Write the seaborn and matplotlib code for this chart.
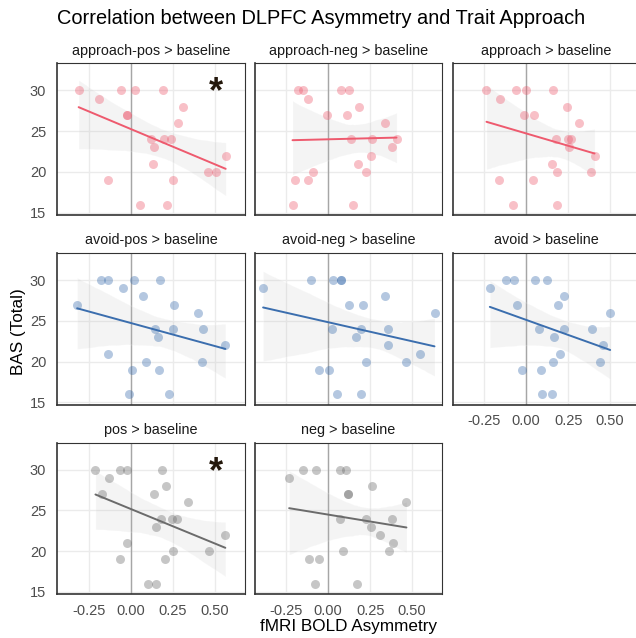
import numpy as np
import pandas as pd
import matplotlib
matplotlib.use("Agg")
import matplotlib.pyplot as plt
import seaborn as sns

# ---- data ----
panel_titles = ["approach-pos > baseline", "approach-neg > baseline", "approach > baseline",
                "avoid-pos > baseline", "avoid-neg > baseline", "avoid > baseline",
                "pos > baseline", "neg > baseline"]
panel_groups = ["approach", "approach", "approach", "avoid", "avoid", "avoid", "valence", "valence"]
significant = [True, False, False, False, False, False, True, False]

approach_pos_x = [-0.31, -0.19, -0.058, 0.028, 0.19, 0.31, -0.022, -0.022, 0.28, 0.123, 0.20, 0.24, 0.139, 0.565, 0.135, 0.458, 0.506, -0.133, 0.252, 0.054, 0.216]
approach_pos_y = [30, 29, 30, 30, 30, 28, 27, 27, 26, 24, 24, 24, 23, 22, 21, 20, 20, 19, 19, 16, 16]
approach_neg_x = [-0.18, -0.149, -0.121, 0.075, 0.125, 0.183, -0.004, 0.111, 0.341, 0.139, 0.264, 0.407, 0.381, 0.256, 0.175, -0.089, 0.228, -0.20, -0.117, -0.212, 0.147]
approach_neg_y = [30, 30, 29, 30, 30, 28, 27, 27, 26, 24, 24, 24, 23, 22, 21, 20, 20, 19, 19, 16, 16]
approach_x = [-0.236, -0.062, 0.0, 0.157, -0.157, 0.242, -0.012, 0.046, 0.313, 0.175, 0.248, 0.266, 0.258, 0.407, 0.155, 0.183, 0.387, -0.163, 0.042, -0.079, 0.181]
approach_y = [30, 30, 30, 30, 29, 28, 27, 27, 26, 24, 24, 24, 23, 22, 21, 20, 20, 19, 19, 16, 16]
avoid_pos_x = [-0.319, -0.177, -0.135, -0.046, 0.022, 0.075, 0.177, 0.258, 0.399, 0.147, 0.254, 0.431, 0.165, 0.563, -0.137, 0.091, 0.423, 0.01, 0.167, -0.012, 0.226]
avoid_pos_y = [27, 30, 30, 29, 30, 28, 30, 27, 26, 24, 24, 24, 23, 22, 21, 20, 20, 19, 19, 16, 16]
avoid_neg_x = [-0.387, -0.103, 0.028, 0.079, 0.079, 0.339, 0.127, 0.206, 0.633, 0.024, 0.194, 0.357, 0.165, 0.359, 0.546, 0.228, 0.464, -0.052, 0.008, 0.054, 0.196]
avoid_neg_y = [29, 30, 30, 30, 30, 28, 27, 27, 26, 24, 24, 24, 23, 22, 21, 20, 20, 19, 19, 16, 16]
avoid_x = [-0.216, -0.121, -0.071, 0.05, 0.127, 0.226, -0.056, 0.19, 0.5, 0.075, 0.224, 0.393, 0.165, 0.46, 0.204, 0.159, 0.442, -0.024, 0.087, 0.093, 0.153]
avoid_y = [29, 30, 30, 30, 30, 28, 27, 27, 26, 24, 24, 24, 23, 22, 21, 20, 20, 19, 19, 16, 16]
pos_x = [-0.21, -0.062, -0.02, 0.185, -0.129, -0.169, 0.139, 0.208, 0.343, 0.179, 0.248, 0.278, 0.153, 0.563, -0.02, 0.25, 0.464, -0.063, 0.204, 0.101, 0.153]
pos_y = [30, 30, 30, 30, 29, 27, 27, 28, 26, 24, 24, 24, 23, 22, 21, 20, 20, 19, 19, 16, 16]
neg_x = [-0.232, -0.149, -0.073, 0.073, 0.105, 0.264, 0.117, 0.117, 0.466, 0.073, 0.226, 0.381, 0.256, 0.308, 0.387, 0.091, 0.363, -0.115, -0.056, -0.077, 0.171]
neg_y = [29, 30, 30, 30, 30, 28, 27, 27, 26, 24, 24, 24, 23, 22, 21, 20, 20, 19, 19, 16, 16]

panel_x = [approach_pos_x, approach_neg_x, approach_x, avoid_pos_x, avoid_neg_x, avoid_x, pos_x, neg_x]
panel_y = [approach_pos_y, approach_neg_y, approach_y, avoid_pos_y, avoid_neg_y, avoid_y, pos_y, neg_y]

x_ticks = [-0.25, 0.0, 0.25, 0.5]
x_tick_labels = ["-0.25", "0.00", "0.25", "0.50"]
y_ticks = [15, 20, 25, 30]
y_tick_labels = ["15", "20", "25", "30"]

title = "Correlation between DLPFC Asymmetry and Trait Approach"
x_label = "fMRI BOLD Asymmetry"
y_label = "BAS (Total)"

df = pd.concat([pd.DataFrame({"panel": t, "group": g, "asym": xs, "bas": ys})
                for t, g, xs, ys in zip(panel_titles, panel_groups, panel_x, panel_y)],
               ignore_index=True)

# ---- style ----
sns.set_theme(style="white")
plt.rcParams["font.family"] = ["Liberation Sans", "DejaVu Sans"]

colors = {"approach": "#EE5A6E", "avoid": "#3B6EAE", "valence": "#6B6B6B"}

W, H = 636, 638
fig = plt.figure(figsize=(W / 100, H / 100), dpi=100)

col_left = [57.3, 254.7, 452.7]
row_top = [63.3, 253.0, 442.5]
pw, ph = 187.7, 151.5

xlim = (-0.437, 0.680)
ylim = (14.75, 33.32)

for i, (t, g) in enumerate(zip(panel_titles, panel_groups)):
    r, c = divmod(i, 3)
    ax = fig.add_axes([col_left[c] / W, (H - row_top[r] - ph) / H, pw / W, ph / H])
    sub = df[df["panel"] == t]
    ax.set_xlim(*xlim)
    ax.set_ylim(*ylim)
    ax.set_xticks(x_ticks)
    ax.set_yticks(y_ticks)
    ax.grid(True, color="#EBEBEB", linewidth=1.0)
    ax.set_axisbelow(True)
    ax.axvline(0, color="#A6A6A6", linewidth=1.0, zorder=1)
    # confidence ribbon (grey)
    sns.regplot(data=sub, x="asym", y="bas", ax=ax, scatter=False, color="#B8B8B8",
                ci=95, n_boot=2000, seed=3, line_kws={"alpha": 0.0})
    # points
    sns.scatterplot(data=sub, x="asym", y="bas", ax=ax, color=colors[g], alpha=0.38,
                    s=42, linewidth=0, zorder=3)
    # regression line
    sns.regplot(data=sub, x="asym", y="bas", ax=ax, scatter=False, ci=None,
                color=colors[g], line_kws={"linewidth": 1.4, "zorder": 4})
    ax.set_xlim(*xlim)
    ax.set_ylim(*ylim)
    ax.set_xlabel("")
    ax.set_ylabel("")
    for side, sp in ax.spines.items():
        sp.set_visible(True)
        sp.set_color("#333333")
        sp.set_linewidth(1.2 if side in ("left", "bottom") else 0.8)
    ax.tick_params(axis="both", length=0, labelsize=10.5, labelcolor="#4D4D4D")
    ax.tick_params(axis="y", pad=8)
    ax.tick_params(axis="x", pad=7)
    if c == 0:
        ax.set_yticklabels(y_tick_labels)
    else:
        ax.set_yticklabels([])
    show_x = (r == 2) or (r == 1 and c == 2)
    if show_x:
        ax.set_xticklabels(x_tick_labels)
    else:
        ax.set_xticklabels([])
    ax.text(0.5, 1 + 12.8 / ph, t, transform=ax.transAxes, ha="center", va="center",
            fontsize=10.4, color="#1A1A1A")
    if significant[i]:
        ax.text(0.505, 28.5, "*", ha="center", va="baseline", fontsize=26,
                fontweight="bold", color="#24180C", zorder=5)

fig.text(57.5 / W, 1 - 18 / H, title, ha="left", va="center", fontsize=14.4, color="black")
fig.text(349 / W, 1 - 626.5 / H, x_label, ha="center", va="center", fontsize=12.3, color="black")
fig.text(19 / W, 1 - 332 / H, y_label, ha="center", va="center", rotation=90,
         fontsize=12.3, color="black")

fig.savefig("out.png", dpi=100, facecolor="white")
